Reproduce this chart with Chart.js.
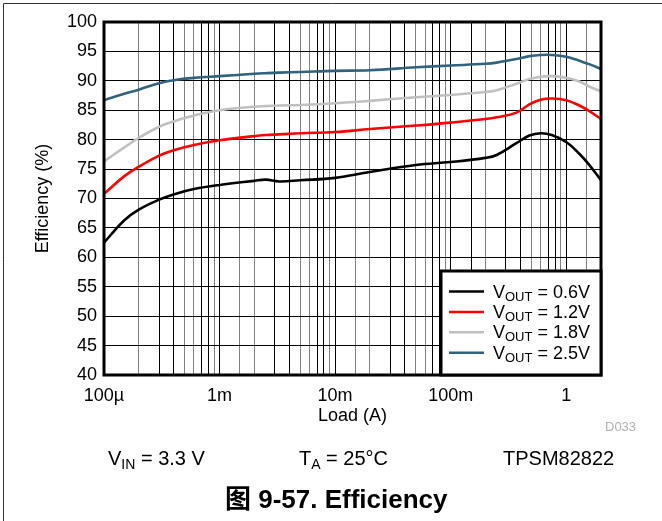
<!DOCTYPE html>
<html>
<head>
<meta charset="utf-8">
<script src="https://cdn.jsdelivr.net/npm/chart.js@4.4.1/dist/chart.umd.min.js"></script>
<style>
  body { margin: 0; background: #fff; }
  #wrap { position: relative; width: 662px; height: 521px; }
</style>
</head>
<body>
<div id="wrap"><canvas id="effChart" width="662" height="521"></canvas></div>
<script>
// load current (A), shared by all curves
const loadA = [1e-4, 1.5e-4, 2e-4, 3e-4, 4e-4, 6e-4, 1e-3, 2e-3, 2.5e-3, 3.3e-3, 5e-3, 1e-2, 2e-2, 5e-2,
  0.1, 0.2, 0.25, 0.37, 0.48, 0.6, 0.75, 1.0, 1.3, 1.6, 2];

// efficiency (%) per output voltage
const eff06 = [62.5, 66.3, 68.1, 69.8, 70.7, 71.6, 72.3, 73.0, 73.2, 72.9, 73.1, 73.5, 74.5, 75.7,
  76.2, 76.9, 77.4, 79.4, 80.7, 81.1, 80.8, 79.6, 77.6, 75.6, 73.1];
const eff12 = [70.8, 73.8, 75.4, 77.3, 78.2, 79.1, 79.9, 80.6, 80.8, 80.9, 81.1, 81.3, 81.8, 82.4,
  82.9, 83.5, 83.8, 84.6, 86.0, 86.8, 87.0, 86.7, 85.8, 84.8, 83.5];
const eff18 = [76.3, 78.7, 80.3, 82.2, 83.1, 84.1, 85.0, 85.6, 85.7, 85.8, 85.9, 86.2, 86.6, 87.2,
  87.6, 88.1, 88.4, 89.5, 90.3, 90.7, 90.8, 90.5, 89.9, 89.0, 88.2];
const eff25 = [86.7, 87.8, 88.5, 89.6, 90.1, 90.5, 90.8, 91.2, 91.3, 91.4, 91.5, 91.7, 91.8, 92.3,
  92.6, 92.9, 93.1, 93.7, 94.2, 94.4, 94.4, 94.1, 93.4, 92.8, 92.0];

const voutNames = ['0.6V', '1.2V', '1.8V', '2.5V'];
const lineColors = ['#000000', '#ff0000', '#c0c0c0', '#31627e'];
const decadeLabels = { '-4': '100µ', '-3': '1m', '-2': '10m', '-1': '100m', '0': '1' };

const FONT = '"Liberation Sans", Arial, "Noto Sans CJK SC", sans-serif';

function toPoints(vals) {
  return vals.map((v, i) => ({ x: loadA[i], y: v }));
}

function xLabel(v) {
  const lg = Math.log10(v);
  const r = Math.round(lg);
  if (Math.abs(lg - r) < 1e-6 && decadeLabels[String(r)] !== undefined) return decadeLabels[String(r)];
  return '';
}

function xGridColor(ctx) {
  const v = ctx.tick && ctx.tick.value;
  if (!v) return '#000';
  const m = Math.round(v / Math.pow(10, Math.floor(Math.log10(v) + 1e-9)));
  return [2, 5, 6, 9].includes(m) ? '#808080' : '#000';
}

// text with subscript pieces
function drawRuns(ctx, x, y, runs, weight) {
  runs.forEach(r => {
    ctx.font = (weight || '') + ' ' + r.size + 'px ' + FONT;
    ctx.fillText(r.text, x, y + (r.dy || 0));
    x += ctx.measureText(r.text).width;
  });
}

const extras = {
  id: 'extras',
  afterDatasetsDraw(chart) {
    const { ctx, chartArea: a } = chart;
    ctx.save();
    ctx.strokeStyle = '#000';
    ctx.lineWidth = 3;
    ctx.strokeRect(a.left, a.top, a.right - a.left, a.bottom - a.top);
    ctx.restore();
  },
  afterDraw(chart) {
    const { ctx, chartArea: a } = chart;
    ctx.save();

    // outer frame (top + left only)
    ctx.strokeStyle = '#333';
    ctx.lineWidth = 1;
    ctx.beginPath();
    ctx.moveTo(3.5, 521); ctx.lineTo(3.5, 3.5); ctx.lineTo(662, 3.5);
    ctx.stroke();

    // legend box
    const bx = a.right - 160, by = a.bottom - 104;
    ctx.fillStyle = '#fff';
    ctx.fillRect(bx, by, a.right - bx, a.bottom - by);
    ctx.strokeStyle = '#000';
    ctx.lineWidth = 3;
    ctx.strokeRect(bx, by, a.right - bx, a.bottom - by);

    ctx.textBaseline = 'alphabetic';
    ctx.textAlign = 'left';
    chart.data.datasets.forEach((ds, i) => {
      const base = by + 26.5 + i * 20.4;
      ctx.strokeStyle = ds.borderColor;
      ctx.lineWidth = 2.5;
      ctx.beginPath();
      ctx.moveTo(bx + 8, base - 6);
      ctx.lineTo(bx + 43, base - 6);
      ctx.stroke();
      ctx.fillStyle = '#000';
      drawRuns(ctx, bx + 52, base, [
        { text: 'V', size: 18 },
        { text: 'OUT', size: 13, dy: 3 },
        { text: ' = ' + voutNames[i], size: 18 }
      ]);
    });

    // figure notes
    ctx.fillStyle = '#b0b0b0';
    ctx.font = '13px ' + FONT;
    ctx.fillText('D033', 605, 431);

    ctx.fillStyle = '#000';
    drawRuns(ctx, 108, 465, [
      { text: 'V', size: 20 }, { text: 'IN', size: 14, dy: 4 }, { text: ' = 3.3 V', size: 20 }
    ]);
    drawRuns(ctx, 299, 465, [
      { text: 'T', size: 20 }, { text: 'A', size: 14, dy: 4 }, { text: ' = 25°C', size: 20 }
    ]);
    drawRuns(ctx, 503, 465, [{ text: 'TPSM82822', size: 20 }]);
    drawRuns(ctx, 225, 508, [{ text: '图 9-57. Efficiency', size: 26 }], 'bold');

    ctx.restore();
  }
};

const tickFont = { size: 18, family: FONT };

new Chart(document.getElementById('effChart'), {
  type: 'line',
  data: {
    datasets: [eff06, eff12, eff18, eff25].map((vals, i) => ({
      label: 'VOUT = ' + voutNames[i],
      data: toPoints(vals),
      borderColor: lineColors[i],
      borderWidth: 2.6,
      pointRadius: 0,
      tension: 0.4,
      fill: false
    }))
  },
  options: {
    responsive: false,
    animation: false,
    layout: { padding: { top: 22, right: 61, bottom: 94, left: 0 } },
    plugins: { legend: { display: false }, tooltip: { enabled: false } },
    scales: {
      x: {
        type: 'logarithmic',
        min: 1e-4,
        max: 2,
        afterFit: s => { s.height = 52; },
        grid: { color: xGridColor, lineWidth: 1, drawTicks: false },
        border: { display: false },
        ticks: { autoSkip: false, maxRotation: 0, padding: 10, color: '#000', font: tickFont, callback: v => xLabel(v) },
        title: { display: true, text: 'Load (A)', color: '#000', font: tickFont, padding: { top: 0, bottom: 0 } }
      },
      y: {
        min: 40,
        max: 100,
        afterFit: s => { s.width = 104; },
        grid: { color: '#000', lineWidth: 1, drawTicks: false },
        border: { display: false },
        ticks: { stepSize: 2.5, padding: 7, color: '#000', font: tickFont, callback: v => (v % 5 === 0 ? v : '') },
        title: { display: true, text: 'Efficiency (%)', color: '#000', font: tickFont, padding: { top: 32, bottom: 0 } }
      }
    }
  },
  plugins: [extras]
});
</script>
</body>
</html>
